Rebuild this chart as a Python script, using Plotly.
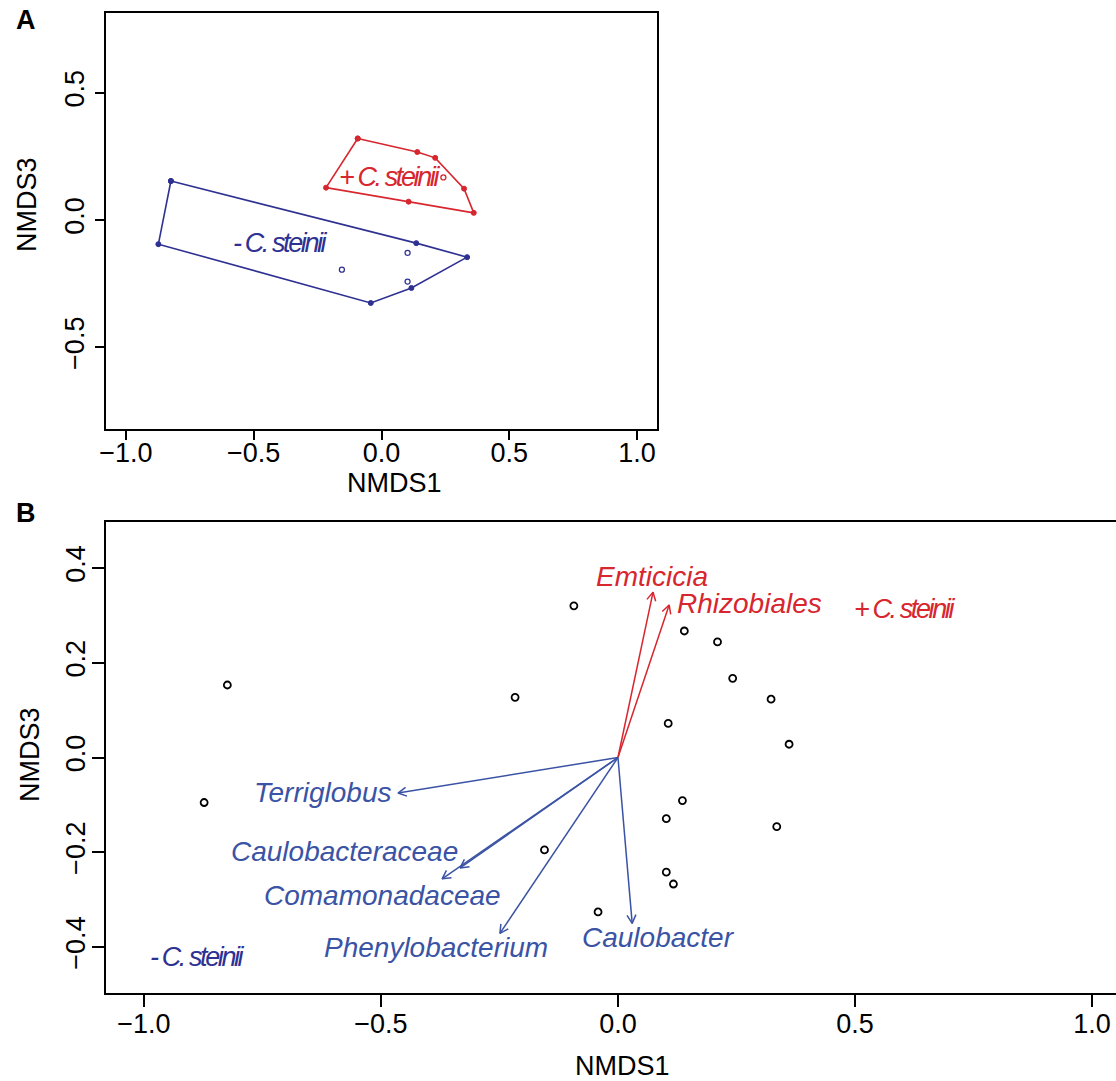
import numpy as np
import plotly.graph_objects as go

W, H = 1116, 1081

# ---------------- data ----------------
# sample scores (NMDS1, NMDS3)
plus_x = [-0.093, 0.140, 0.210, 0.323, 0.361, 0.106, -0.217, 0.242]
plus_y = [0.320, 0.267, 0.244, 0.123, 0.028, 0.072, 0.127, 0.167]
plus_hull = [0, 1, 2, 3, 4, 5, 6]          # hull order (index into plus_*)

minus_x = [-0.824, 0.136, 0.335, 0.117, -0.042, -0.873, 0.102, -0.155, 0.102]
minus_y = [0.153, -0.091, -0.146, -0.267, -0.326, -0.095, -0.129, -0.195, -0.242]
minus_hull = [0, 1, 2, 3, 4, 5]

# fitted taxa vectors
taxa = ["Emticicia", "Rhizobiales", "Terriglobus", "Caulobacteraceae",
        "Comamonadaceae", "Phenylobacterium", "Caulobacter"]
taxa_group = ["plus", "plus", "minus", "minus", "minus", "minus", "minus"]
vec_x = [0.074, 0.108, -0.464, -0.333, -0.371, -0.249, 0.030]
vec_y = [0.349, 0.322, -0.075, -0.233, -0.256, -0.371, -0.350]
lab_x = [0.072, 0.278, -0.624, -0.576, -0.496, -0.384, 0.085]
lab_y = [0.383, 0.324, -0.073, -0.199, -0.292, -0.400, -0.379]

group_labels = ["+ C. steinii", "- C. steinii"]
groupA_x = [0.031, -0.396]
groupA_y = [0.169, -0.091]
groupB_x = [0.604, -0.886]
groupB_y = [0.313, -0.421]

x_ticks = [-1.0, -0.5, 0.0, 0.5, 1.0]
yA_ticks = [-0.5, 0.0, 0.5]
yB_ticks = [-0.4, -0.2, 0.0, 0.2, 0.4]

# ---------------- styles ----------------
RED = "#D7262E"
BLUE_A = "#2E3192"
BLUE_B = "#3B53A4"
FONT = "Liberation Sans, Arial, sans-serif"


def px(x):
    return x / W


def py(y):
    return 1 - y / H


def squeezed(t):
    return '<span style="letter-spacing:-2.4px">%s</span>' % t


fig = go.Figure()

# ---------- Panel A ----------
for xs, ys, hull, col in [(plus_x, plus_y, plus_hull, RED),
                          (minus_x, minus_y, minus_hull, BLUE_A)]:
    hx = [xs[i] for i in hull] + [xs[hull[0]]]
    hy = [ys[i] for i in hull] + [ys[hull[0]]]
    fig.add_trace(go.Scatter(x=hx, y=hy, mode="lines+markers", xaxis="x", yaxis="y",
                             line=dict(color=col, width=1.6),
                             marker=dict(size=5, color=col, line=dict(color=col, width=1)),
                             showlegend=False, hoverinfo="skip"))
    inner = [i for i in range(len(xs)) if i not in hull]
    fig.add_trace(go.Scatter(x=[xs[i] for i in inner], y=[ys[i] for i in inner],
                             mode="markers", xaxis="x", yaxis="y",
                             marker=dict(size=5, color="white", line=dict(color=col, width=1.3)),
                             showlegend=False, hoverinfo="skip"))

# ---------- Panel B ----------
all_x = plus_x + minus_x
all_y = plus_y + minus_y
fig.add_trace(go.Scatter(x=all_x, y=all_y, mode="markers", xaxis="x2", yaxis="y2",
                         marker=dict(size=7, color="white", line=dict(color="black", width=1.8)),
                         showlegend=False, hoverinfo="skip"))

head_len = 0.02
head_ang = np.deg2rad(28)
for vx, vy, g in zip(vec_x, vec_y, taxa_group):
    col = RED if g == "plus" else BLUE_B
    th = np.arctan2(vy, vx)
    w1 = (vx - head_len * np.cos(th - head_ang), vy - head_len * np.sin(th - head_ang))
    w2 = (vx - head_len * np.cos(th + head_ang), vy - head_len * np.sin(th + head_ang))
    fig.add_trace(go.Scatter(x=[0, vx, None, w1[0], vx, w2[0]],
                             y=[0, vy, None, w1[1], vy, w2[1]],
                             mode="lines", xaxis="x2", yaxis="y2",
                             line=dict(color=col, width=1.5),
                             showlegend=False, hoverinfo="skip"))

annotations = []
for t, x, y, g in zip(taxa, lab_x, lab_y, taxa_group):
    col = RED if g == "plus" else BLUE_B
    annotations.append(dict(x=x, y=y, xref="x2", yref="y2", text=t, showarrow=False,
                            xanchor="center", yanchor="middle",
                            font=dict(family=FONT, size=28, color=col, style="italic")))

for t, xa, ya, xb, yb, col in zip(group_labels, groupA_x, groupA_y, groupB_x, groupB_y,
                                  [RED, BLUE_A]):
    annotations.append(dict(x=xa, y=ya, xref="x", yref="y", text=squeezed(t), showarrow=False,
                            xanchor="center", yanchor="middle",
                            font=dict(family=FONT, size=27, color=col, style="italic")))
    annotations.append(dict(x=xb, y=yb, xref="x2", yref="y2", text=squeezed(t), showarrow=False,
                            xanchor="center", yanchor="middle",
                            font=dict(family=FONT, size=27, color=col, style="italic")))

# axis titles & panel letters
for text, x, y, ang in [("NMDS1", 394, 483, 0), ("NMDS3", 27, 205, -90),
                        ("NMDS1", 622, 1066, 0), ("NMDS3", 30, 755, -90)]:
    annotations.append(dict(x=px(x), y=py(y), xref="paper", yref="paper", text=text,
                            showarrow=False, xanchor="center", yanchor="middle",
                            textangle=ang, font=dict(family=FONT, size=27, color="black")))
for text, x, y in [("A", 26, 20), ("B", 26, 513)]:
    annotations.append(dict(x=px(x), y=py(y), xref="paper", yref="paper",
                            text="<b>%s</b>" % text, showarrow=False,
                            xanchor="center", yanchor="middle",
                            font=dict(family=FONT, size=27, color="black")))

axis_common = dict(showgrid=False, zeroline=False, showline=True, linecolor="black",
                   linewidth=2, ticks="outside", tickwidth=2, tickcolor="black",
                   tickformat=".1f", automargin=False,
                   tickfont=dict(family=FONT, size=27, color="black"))

fig.update_layout(
    width=W, height=H,
    margin=dict(l=0, r=0, t=0, b=0),
    paper_bgcolor="white", plot_bgcolor="white",
    showlegend=False,
    xaxis=dict(domain=[px(106), px(657)], range=[-1.078, 1.078], tickvals=x_ticks,
               mirror=True, ticklen=9, ticklabelstandoff=-10, anchor="y", **axis_common),
    yaxis=dict(domain=[py(429), py(13)], range=[-0.821, 0.813], tickvals=yA_ticks,
               mirror=True, ticklen=9, tickangle=-90, anchor="x", **axis_common),
    xaxis2=dict(domain=[px(106), 1.0], range=[-1.08, (W - 618) / 474.0], tickvals=x_ticks,
                mirror=True, ticklen=12, ticklabelstandoff=-6, anchor="y2", **axis_common),
    yaxis2=dict(domain=[py(993), py(522)], range=[-0.497, 0.497], tickvals=yB_ticks,
                mirror=False, ticklen=12, ticklabelstandoff=-4, tickangle=-90, anchor="x2",
                **axis_common),
    annotations=annotations,
)

fig.write_html("out.html", config={"displayModeBar": False},
               post_script="document.body.style.margin='0px';document.body.style.overflow='hidden';")
